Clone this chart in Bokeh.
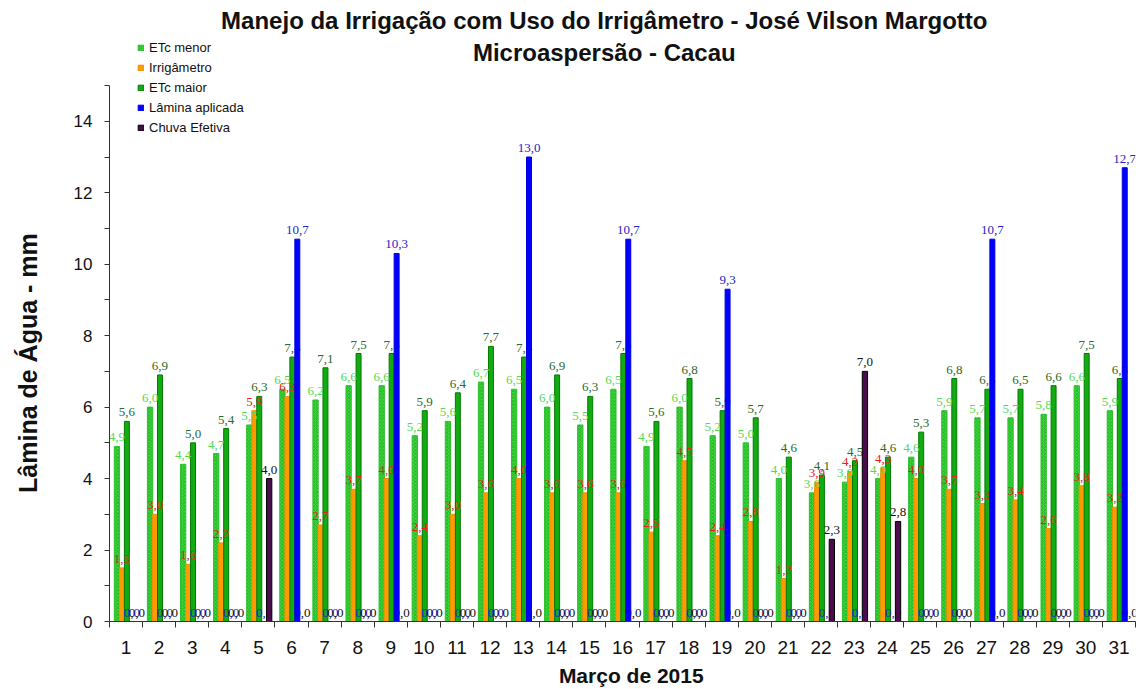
import math
from bokeh.plotting import figure
from bokeh.models import ColumnDataSource, FixedTicker, Label, Legend, LegendItem, Range1d
from bokeh.core.properties import value
from bokeh.embed import file_html
from bokeh.resources import INLINE
from bokeh.transform import dodge

days = list(range(1, 32))
etc_menor = [4.9, 6.0, 4.4, 4.7, 5.5, 6.5, 6.2, 6.6, 6.6, 5.2, 5.6, 6.7, 6.5, 6.0, 5.5, 6.5,
             4.9, 6.0, 5.2, 5.0, 4.0, 3.6, 3.9, 4.0, 4.6, 5.9, 5.7, 5.7, 5.8, 6.6, 5.9]
irrigametro = [1.5, 3.0, 1.6, 2.2, 5.9, 6.3, 2.7, 3.7, 4.0, 2.4, 3.0, 3.6, 4.0, 3.6, 3.6, 3.6,
               2.5, 4.5, 2.4, 2.8, 1.2, 3.9, 4.2, 4.3, 4.0, 3.7, 3.3, 3.4, 2.6, 3.8, 3.2]
etc_maior = [5.6, 6.9, 5.0, 5.4, 6.3, 7.4, 7.1, 7.5, 7.5, 5.9, 6.4, 7.7, 7.4, 6.9, 6.3, 7.5,
             5.6, 6.8, 5.9, 5.7, 4.6, 4.1, 4.5, 4.6, 5.3, 6.8, 6.5, 6.5, 6.6, 7.5, 6.8]
lamina = [0, 0, 0, 0, 0, 10.7, 0, 0, 10.3, 0, 0, 0, 13.0, 0, 0, 10.7,
          0, 0, 9.3, 0, 0, 0, 0, 0, 0, 0, 10.7, 0, 0, 0, 12.7]
chuva = [0, 0, 0, 0, 4.0, 0, 0, 0, 0, 0, 0, 0, 0, 0, 0, 0,
         0, 0, 0, 0, 0, 2.3, 7.0, 2.8, 0, 0, 0, 0, 0, 0, 0]
series_names = ["ETc menor", "Irrigâmetro", "ETc maior", "Lâmina aplicada", "Chuva Efetiva"]
x_ticks = [str(d) for d in days]
y_ticks = [0, 2, 4, 6, 8, 10, 12, 14]
title_lines = ["Manejo da Irrigação com Uso do Irrigâmetro - José Vilson Margotto",
               "Microaspersão - Cacau"]
x_title = "Março de 2015"
y_title = "Lâmina de Água - mm"


def fmt(v):
    return f"{v:.1f}".replace(".", ",")


p = figure(width=1140, height=689, output_backend="svg", toolbar_location=None,
           x_range=Range1d(0.5, 31.5), y_range=Range1d(0, 17.38),
           min_border_left=109, min_border_right=5, min_border_top=0, min_border_bottom=67)
p.outline_line_color = None
p.xgrid.visible = False
p.ygrid.visible = False
p.background_fill_color = "white"

styles = [
    dict(off=-0.275, w=0.16, fill="#3cdc3c", line="#30c030", hatch="diagonal_cross", lab="#55d855"),
    dict(off=-0.125, w=0.15, fill="#ff9a00", line="#f09000", hatch=None, lab="#e82020"),
    dict(off=0.025, w=0.15, fill="#12ac12", line="#007a00", hatch=None, lab="#2a6a2a"),
    dict(off=0.175, w=0.15, fill="#0000ff", line="#0000e0", hatch=None, lab="#2424c8"),
    dict(off=0.325, w=0.16, fill="#4a0c4a", line="#000000", hatch=None, lab="#111111"),
]
data = [etc_menor, irrigametro, etc_maior, lamina, chuva]
sources = [ColumnDataSource(dict(day=days, val=v, lbl=[fmt(x) for x in v])) for v in data]


def bars(i):
    st = styles[i]
    kw = dict(x=dodge("day", st["off"], range=p.x_range), top="val", bottom=0, width=st["w"],
              source=sources[i], fill_color=st["fill"], line_color=st["line"], line_width=1)
    if st["hatch"]:
        kw.update(hatch_pattern=st["hatch"], hatch_color="#128a12", hatch_scale=3.5,
                  hatch_weight=0.8, hatch_alpha=0.7)
    return p.vbar(**kw)


def labels(i):
    st = styles[i]
    p.text(x=dodge("day", st["off"], range=p.x_range), y="val", text="lbl", source=sources[i],
           text_align="center", text_baseline="alphabetic", y_offset=-9,
           text_font=value("Liberation Serif"), text_font_size="13px", text_color=st["lab"])


renderers = [None] * 5
for i in (0, 1, 2):
    renderers[i] = bars(i)
for i in (0, 1, 2, 3):
    labels(i)
renderers[4] = bars(4)
labels(4)
renderers[3] = bars(3)

legend = Legend(items=[LegendItem(label=n, renderers=[r]) for n, r in zip(series_names, renderers)],
                location=(28, 484), orientation="vertical", glyph_width=7, glyph_height=7,
                label_standoff=5, label_height=20, spacing=0, padding=0, margin=0,
                label_text_font="Liberation Sans", label_text_font_size="13px",
                label_text_color="#111111", border_line_color=None, background_fill_alpha=0)
p.add_layout(legend)

# y axis
p.yaxis.ticker = FixedTicker(ticks=y_ticks, minor_ticks=list(range(1, 16, 2)))
p.yaxis.bounds = (0, 15)
p.yaxis.major_tick_out = 5
p.yaxis.major_tick_in = 0
p.yaxis.minor_tick_out = 5
p.yaxis.minor_tick_in = 0
p.yaxis.major_label_standoff = 12
p.yaxis.major_label_text_font = "Liberation Sans"
p.yaxis.major_label_text_font_size = "17px"
p.yaxis.major_label_text_color = "#111111"
p.yaxis.axis_line_color = "#333333"
p.yaxis.major_tick_line_color = "#333333"
p.yaxis.minor_tick_line_color = "#333333"
# padding with no-break spaces shifts the centred label down to where the original has it
p.yaxis.axis_label = y_title + "\u00a0" * 15
p.yaxis.axis_label_standoff = 29
p.yaxis.axis_label_text_font = "Liberation Sans"
p.yaxis.axis_label_text_font_size = "25px"
p.yaxis.axis_label_text_font_style = "bold"
p.yaxis.axis_label_text_color = "#111111"

# x axis
p.xaxis.ticker = FixedTicker(ticks=days, minor_ticks=[i + 0.5 for i in range(0, 32)])
p.xaxis.major_label_overrides = {d: t for d, t in zip(days, x_ticks)}
p.xaxis.major_tick_line_color = None
p.xaxis.major_tick_out = 0
p.xaxis.major_tick_in = 0
p.xaxis.minor_tick_out = 6
p.xaxis.minor_tick_in = 0
p.xaxis.minor_tick_line_color = "#333333"
p.xaxis.axis_line_color = "#333333"
p.xaxis.major_label_standoff = 13
p.xaxis.major_label_text_font = "Liberation Sans"
p.xaxis.major_label_text_font_size = "19px"
p.xaxis.major_label_text_color = "#111111"
p.xaxis.axis_label = "\u00a0" * 3 + x_title
p.xaxis.axis_label_standoff = 7
p.xaxis.axis_label_text_font = "Liberation Sans"
p.xaxis.axis_label_text_font_size = "21px"
p.xaxis.axis_label_text_font_style = "bold"
p.xaxis.axis_label_text_color = "#111111"

# titles
for line, yv in zip(title_lines, [16.82, 15.93]):
    p.add_layout(Label(x=15.45, y=yv, text=line, text_align="center", text_baseline="middle",
                       text_font="Liberation Sans", text_font_size="24px", text_font_style="bold",
                       text_color="#111111"))

open("out.html", "w").write(file_html(p, INLINE))
